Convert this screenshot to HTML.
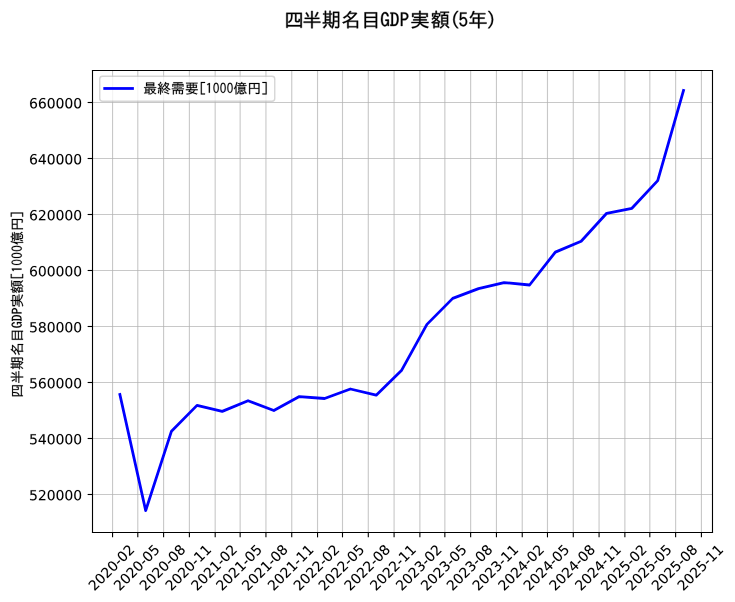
<!DOCTYPE html>
<html><head><meta charset="utf-8"><title>GDP chart</title>
<style>
html,body{margin:0;padding:0;background:#fff;width:735px;height:602px;overflow:hidden;font-family:"Liberation Sans",sans-serif;}
svg{display:block;position:absolute;left:0;top:0;}
#text_35 use{stroke:#000;stroke-width:110px;} #text_34 use,#text_33 use{stroke:#000;stroke-width:80px;} #text_1 use,#text_2 use,#text_3 use,#text_4 use,#text_5 use,#text_6 use,#text_7 use,#text_8 use,#text_9 use,#text_10 use,#text_11 use,#text_12 use,#text_13 use,#text_14 use,#text_15 use,#text_16 use,#text_17 use,#text_18 use,#text_19 use,#text_20 use,#text_21 use,#text_22 use,#text_23 use,#text_24 use,#text_25 use,#text_26 use,#text_27 use,#text_28 use,#text_29 use,#text_30 use,#text_31 use,#text_32 use{stroke:#000;stroke-width:45px;}
</style></head><body>
<svg width="735.2024" height="602.2616" viewBox="0 0 529.345718 433.628378" version="1.1">
<defs>
<style type="text/css">*{stroke-linejoin: round; stroke-linecap: butt}</style>
</defs>
<g id="figure_1" transform="translate(1.0800 0.3600)">
<g id="patch_1">
<path d="M 0 433.628378
L 529.345718 433.628378
L 529.345718 0
L 0 0
z
" style="fill: #ffffff"/>
</g>
<g id="axes_1">
<g id="patch_2">
<path d="M 65.526563 383.04
L 511.926562 383.04
L 511.926562 50.4
L 65.526563 50.4
z
" style="fill: #ffffff"/>
</g>
<g id="matplotlib.axis_1">
<g id="xtick_1">
<g id="line2d_1">
<path d="M 79.962383 383.04
L 79.962383 50.4
" clip-path="url(#p11ac2ed58e)" style="fill: none; stroke: #b0b0b0; stroke-opacity: 0.7; stroke-width: 0.8; stroke-linecap: square"/>
</g>
<g id="line2d_2">
<defs>
<path id="m41a6c0b2a0" d="M 0 0
L 0 3.5
" style="stroke: #000000; stroke-width: 0.8"/>
</defs>
<g>
<use xlink:href="#m41a6c0b2a0" x="79.962383" y="383.04" style="stroke: #000000; stroke-width: 0.8"/>
</g>
</g>
<g id="text_1" transform="translate(-0.2880 0.5760)">
<!-- 2020-02 -->
<g transform="translate(67.141101 424.957817) rotate(-45) scale(0.1 -0.1)">
<defs>
<path id="DejaVuSans-32" d="M 1228 531
L 3431 531
L 3431 0
L 469 0
L 469 531
Q 828 903 1448 1529
Q 2069 2156 2228 2338
Q 2531 2678 2651 2914
Q 2772 3150 2772 3378
Q 2772 3750 2511 3984
Q 2250 4219 1831 4219
Q 1534 4219 1204 4116
Q 875 4013 500 3803
L 500 4441
Q 881 4594 1212 4672
Q 1544 4750 1819 4750
Q 2544 4750 2975 4387
Q 3406 4025 3406 3419
Q 3406 3131 3298 2873
Q 3191 2616 2906 2266
Q 2828 2175 2409 1742
Q 1991 1309 1228 531
z
" transform="scale(0.015625)"/>
<path id="DejaVuSans-30" d="M 2034 4250
Q 1547 4250 1301 3770
Q 1056 3291 1056 2328
Q 1056 1369 1301 889
Q 1547 409 2034 409
Q 2525 409 2770 889
Q 3016 1369 3016 2328
Q 3016 3291 2770 3770
Q 2525 4250 2034 4250
z
M 2034 4750
Q 2819 4750 3233 4129
Q 3647 3509 3647 2328
Q 3647 1150 3233 529
Q 2819 -91 2034 -91
Q 1250 -91 836 529
Q 422 1150 422 2328
Q 422 3509 836 4129
Q 1250 4750 2034 4750
z
" transform="scale(0.015625)"/>
<path id="DejaVuSans-2d" d="M 313 2009
L 1997 2009
L 1997 1497
L 313 1497
L 313 2009
z
" transform="scale(0.015625)"/>
</defs>
<use xlink:href="#DejaVuSans-32"/>
<use xlink:href="#DejaVuSans-30" transform="translate(63.623047 0)"/>
<use xlink:href="#DejaVuSans-32" transform="translate(127.246094 0)"/>
<use xlink:href="#DejaVuSans-30" transform="translate(190.869141 0)"/>
<use xlink:href="#DejaVuSans-2d" transform="translate(254.492188 0)"/>
<use xlink:href="#DejaVuSans-30" transform="translate(290.576172 0)"/>
<use xlink:href="#DejaVuSans-32" transform="translate(354.199219 0)"/>
</g>
</g>
</g>
<g id="xtick_2">
<g id="line2d_3">
<path d="M 98.133347 383.04
L 98.133347 50.4
" clip-path="url(#p11ac2ed58e)" style="fill: none; stroke: #b0b0b0; stroke-opacity: 0.7; stroke-width: 0.8; stroke-linecap: square"/>
</g>
<g id="line2d_4">
<g>
<use xlink:href="#m41a6c0b2a0" x="98.133347" y="383.04" style="stroke: #000000; stroke-width: 0.8"/>
</g>
</g>
<g id="text_2" transform="translate(-0.2880 0.5760)">
<!-- 2020-05 -->
<g transform="translate(85.312065 424.957817) rotate(-45) scale(0.1 -0.1)">
<defs>
<path id="DejaVuSans-35" d="M 691 4666
L 3169 4666
L 3169 4134
L 1269 4134
L 1269 2991
Q 1406 3038 1543 3061
Q 1681 3084 1819 3084
Q 2600 3084 3056 2656
Q 3513 2228 3513 1497
Q 3513 744 3044 326
Q 2575 -91 1722 -91
Q 1428 -91 1123 -41
Q 819 9 494 109
L 494 744
Q 775 591 1075 516
Q 1375 441 1709 441
Q 2250 441 2565 725
Q 2881 1009 2881 1497
Q 2881 1984 2565 2268
Q 2250 2553 1709 2553
Q 1456 2553 1204 2497
Q 953 2441 691 2322
L 691 4666
z
" transform="scale(0.015625)"/>
</defs>
<use xlink:href="#DejaVuSans-32"/>
<use xlink:href="#DejaVuSans-30" transform="translate(63.623047 0)"/>
<use xlink:href="#DejaVuSans-32" transform="translate(127.246094 0)"/>
<use xlink:href="#DejaVuSans-30" transform="translate(190.869141 0)"/>
<use xlink:href="#DejaVuSans-2d" transform="translate(254.492188 0)"/>
<use xlink:href="#DejaVuSans-30" transform="translate(290.576172 0)"/>
<use xlink:href="#DejaVuSans-35" transform="translate(354.199219 0)"/>
</g>
</g>
</g>
<g id="xtick_3">
<g id="line2d_5">
<path d="M 116.708109 383.04
L 116.708109 50.4
" clip-path="url(#p11ac2ed58e)" style="fill: none; stroke: #b0b0b0; stroke-opacity: 0.7; stroke-width: 0.8; stroke-linecap: square"/>
</g>
<g id="line2d_6">
<g>
<use xlink:href="#m41a6c0b2a0" x="116.708109" y="383.04" style="stroke: #000000; stroke-width: 0.8"/>
</g>
</g>
<g id="text_3" transform="translate(-0.2880 0.5760)">
<!-- 2020-08 -->
<g transform="translate(103.886827 424.957817) rotate(-45) scale(0.1 -0.1)">
<defs>
<path id="DejaVuSans-38" d="M 2034 2216
Q 1584 2216 1326 1975
Q 1069 1734 1069 1313
Q 1069 891 1326 650
Q 1584 409 2034 409
Q 2484 409 2743 651
Q 3003 894 3003 1313
Q 3003 1734 2745 1975
Q 2488 2216 2034 2216
z
M 1403 2484
Q 997 2584 770 2862
Q 544 3141 544 3541
Q 544 4100 942 4425
Q 1341 4750 2034 4750
Q 2731 4750 3128 4425
Q 3525 4100 3525 3541
Q 3525 3141 3298 2862
Q 3072 2584 2669 2484
Q 3125 2378 3379 2068
Q 3634 1759 3634 1313
Q 3634 634 3220 271
Q 2806 -91 2034 -91
Q 1263 -91 848 271
Q 434 634 434 1313
Q 434 1759 690 2068
Q 947 2378 1403 2484
z
M 1172 3481
Q 1172 3119 1398 2916
Q 1625 2713 2034 2713
Q 2441 2713 2670 2916
Q 2900 3119 2900 3481
Q 2900 3844 2670 4047
Q 2441 4250 2034 4250
Q 1625 4250 1398 4047
Q 1172 3844 1172 3481
z
" transform="scale(0.015625)"/>
</defs>
<use xlink:href="#DejaVuSans-32"/>
<use xlink:href="#DejaVuSans-30" transform="translate(63.623047 0)"/>
<use xlink:href="#DejaVuSans-32" transform="translate(127.246094 0)"/>
<use xlink:href="#DejaVuSans-30" transform="translate(190.869141 0)"/>
<use xlink:href="#DejaVuSans-2d" transform="translate(254.492188 0)"/>
<use xlink:href="#DejaVuSans-30" transform="translate(290.576172 0)"/>
<use xlink:href="#DejaVuSans-38" transform="translate(354.199219 0)"/>
</g>
</g>
</g>
<g id="xtick_4">
<g id="line2d_7">
<path d="M 135.282872 383.04
L 135.282872 50.4
" clip-path="url(#p11ac2ed58e)" style="fill: none; stroke: #b0b0b0; stroke-opacity: 0.7; stroke-width: 0.8; stroke-linecap: square"/>
</g>
<g id="line2d_8">
<g>
<use xlink:href="#m41a6c0b2a0" x="135.282872" y="383.04" style="stroke: #000000; stroke-width: 0.8"/>
</g>
</g>
<g id="text_4" transform="translate(-0.2880 0.5760)">
<!-- 2020-11 -->
<g transform="translate(122.46159 424.957817) rotate(-45) scale(0.1 -0.1)">
<defs>
<path id="DejaVuSans-31" d="M 794 531
L 1825 531
L 1825 4091
L 703 3866
L 703 4441
L 1819 4666
L 2450 4666
L 2450 531
L 3481 531
L 3481 0
L 794 0
L 794 531
z
" transform="scale(0.015625)"/>
</defs>
<use xlink:href="#DejaVuSans-32"/>
<use xlink:href="#DejaVuSans-30" transform="translate(63.623047 0)"/>
<use xlink:href="#DejaVuSans-32" transform="translate(127.246094 0)"/>
<use xlink:href="#DejaVuSans-30" transform="translate(190.869141 0)"/>
<use xlink:href="#DejaVuSans-2d" transform="translate(254.492188 0)"/>
<use xlink:href="#DejaVuSans-31" transform="translate(290.576172 0)"/>
<use xlink:href="#DejaVuSans-31" transform="translate(354.199219 0)"/>
</g>
</g>
</g>
<g id="xtick_5">
<g id="line2d_9">
<path d="M 153.857634 383.04
L 153.857634 50.4
" clip-path="url(#p11ac2ed58e)" style="fill: none; stroke: #b0b0b0; stroke-opacity: 0.7; stroke-width: 0.8; stroke-linecap: square"/>
</g>
<g id="line2d_10">
<g>
<use xlink:href="#m41a6c0b2a0" x="153.857634" y="383.04" style="stroke: #000000; stroke-width: 0.8"/>
</g>
</g>
<g id="text_5" transform="translate(-0.2880 0.5760)">
<!-- 2021-02 -->
<g transform="translate(141.036352 424.957817) rotate(-45) scale(0.1 -0.1)">
<use xlink:href="#DejaVuSans-32"/>
<use xlink:href="#DejaVuSans-30" transform="translate(63.623047 0)"/>
<use xlink:href="#DejaVuSans-32" transform="translate(127.246094 0)"/>
<use xlink:href="#DejaVuSans-31" transform="translate(190.869141 0)"/>
<use xlink:href="#DejaVuSans-2d" transform="translate(254.492188 0)"/>
<use xlink:href="#DejaVuSans-30" transform="translate(290.576172 0)"/>
<use xlink:href="#DejaVuSans-32" transform="translate(354.199219 0)"/>
</g>
</g>
</g>
<g id="xtick_6">
<g id="line2d_11">
<path d="M 171.826698 383.04
L 171.826698 50.4
" clip-path="url(#p11ac2ed58e)" style="fill: none; stroke: #b0b0b0; stroke-opacity: 0.7; stroke-width: 0.8; stroke-linecap: square"/>
</g>
<g id="line2d_12">
<g>
<use xlink:href="#m41a6c0b2a0" x="171.826698" y="383.04" style="stroke: #000000; stroke-width: 0.8"/>
</g>
</g>
<g id="text_6" transform="translate(-0.2880 0.5760)">
<!-- 2021-05 -->
<g transform="translate(159.005416 424.957817) rotate(-45) scale(0.1 -0.1)">
<use xlink:href="#DejaVuSans-32"/>
<use xlink:href="#DejaVuSans-30" transform="translate(63.623047 0)"/>
<use xlink:href="#DejaVuSans-32" transform="translate(127.246094 0)"/>
<use xlink:href="#DejaVuSans-31" transform="translate(190.869141 0)"/>
<use xlink:href="#DejaVuSans-2d" transform="translate(254.492188 0)"/>
<use xlink:href="#DejaVuSans-30" transform="translate(290.576172 0)"/>
<use xlink:href="#DejaVuSans-35" transform="translate(354.199219 0)"/>
</g>
</g>
</g>
<g id="xtick_7">
<g id="line2d_13">
<path d="M 190.401461 383.04
L 190.401461 50.4
" clip-path="url(#p11ac2ed58e)" style="fill: none; stroke: #b0b0b0; stroke-opacity: 0.7; stroke-width: 0.8; stroke-linecap: square"/>
</g>
<g id="line2d_14">
<g>
<use xlink:href="#m41a6c0b2a0" x="190.401461" y="383.04" style="stroke: #000000; stroke-width: 0.8"/>
</g>
</g>
<g id="text_7" transform="translate(-0.2880 0.5760)">
<!-- 2021-08 -->
<g transform="translate(177.580178 424.957817) rotate(-45) scale(0.1 -0.1)">
<use xlink:href="#DejaVuSans-32"/>
<use xlink:href="#DejaVuSans-30" transform="translate(63.623047 0)"/>
<use xlink:href="#DejaVuSans-32" transform="translate(127.246094 0)"/>
<use xlink:href="#DejaVuSans-31" transform="translate(190.869141 0)"/>
<use xlink:href="#DejaVuSans-2d" transform="translate(254.492188 0)"/>
<use xlink:href="#DejaVuSans-30" transform="translate(290.576172 0)"/>
<use xlink:href="#DejaVuSans-38" transform="translate(354.199219 0)"/>
</g>
</g>
</g>
<g id="xtick_8">
<g id="line2d_15">
<path d="M 208.976223 383.04
L 208.976223 50.4
" clip-path="url(#p11ac2ed58e)" style="fill: none; stroke: #b0b0b0; stroke-opacity: 0.7; stroke-width: 0.8; stroke-linecap: square"/>
</g>
<g id="line2d_16">
<g>
<use xlink:href="#m41a6c0b2a0" x="208.976223" y="383.04" style="stroke: #000000; stroke-width: 0.8"/>
</g>
</g>
<g id="text_8" transform="translate(-0.2880 0.5760)">
<!-- 2021-11 -->
<g transform="translate(196.154941 424.957817) rotate(-45) scale(0.1 -0.1)">
<use xlink:href="#DejaVuSans-32"/>
<use xlink:href="#DejaVuSans-30" transform="translate(63.623047 0)"/>
<use xlink:href="#DejaVuSans-32" transform="translate(127.246094 0)"/>
<use xlink:href="#DejaVuSans-31" transform="translate(190.869141 0)"/>
<use xlink:href="#DejaVuSans-2d" transform="translate(254.492188 0)"/>
<use xlink:href="#DejaVuSans-31" transform="translate(290.576172 0)"/>
<use xlink:href="#DejaVuSans-31" transform="translate(354.199219 0)"/>
</g>
</g>
</g>
<g id="xtick_9">
<g id="line2d_17">
<path d="M 227.550986 383.04
L 227.550986 50.4
" clip-path="url(#p11ac2ed58e)" style="fill: none; stroke: #b0b0b0; stroke-opacity: 0.7; stroke-width: 0.8; stroke-linecap: square"/>
</g>
<g id="line2d_18">
<g>
<use xlink:href="#m41a6c0b2a0" x="227.550986" y="383.04" style="stroke: #000000; stroke-width: 0.8"/>
</g>
</g>
<g id="text_9" transform="translate(-0.2880 0.5760)">
<!-- 2022-02 -->
<g transform="translate(214.729704 424.957817) rotate(-45) scale(0.1 -0.1)">
<use xlink:href="#DejaVuSans-32"/>
<use xlink:href="#DejaVuSans-30" transform="translate(63.623047 0)"/>
<use xlink:href="#DejaVuSans-32" transform="translate(127.246094 0)"/>
<use xlink:href="#DejaVuSans-32" transform="translate(190.869141 0)"/>
<use xlink:href="#DejaVuSans-2d" transform="translate(254.492188 0)"/>
<use xlink:href="#DejaVuSans-30" transform="translate(290.576172 0)"/>
<use xlink:href="#DejaVuSans-32" transform="translate(354.199219 0)"/>
</g>
</g>
</g>
<g id="xtick_10">
<g id="line2d_19">
<path d="M 245.52005 383.04
L 245.52005 50.4
" clip-path="url(#p11ac2ed58e)" style="fill: none; stroke: #b0b0b0; stroke-opacity: 0.7; stroke-width: 0.8; stroke-linecap: square"/>
</g>
<g id="line2d_20">
<g>
<use xlink:href="#m41a6c0b2a0" x="245.52005" y="383.04" style="stroke: #000000; stroke-width: 0.8"/>
</g>
</g>
<g id="text_10" transform="translate(-0.2880 0.5760)">
<!-- 2022-05 -->
<g transform="translate(232.698767 424.957817) rotate(-45) scale(0.1 -0.1)">
<use xlink:href="#DejaVuSans-32"/>
<use xlink:href="#DejaVuSans-30" transform="translate(63.623047 0)"/>
<use xlink:href="#DejaVuSans-32" transform="translate(127.246094 0)"/>
<use xlink:href="#DejaVuSans-32" transform="translate(190.869141 0)"/>
<use xlink:href="#DejaVuSans-2d" transform="translate(254.492188 0)"/>
<use xlink:href="#DejaVuSans-30" transform="translate(290.576172 0)"/>
<use xlink:href="#DejaVuSans-35" transform="translate(354.199219 0)"/>
</g>
</g>
</g>
<g id="xtick_11">
<g id="line2d_21">
<path d="M 264.094812 383.04
L 264.094812 50.4
" clip-path="url(#p11ac2ed58e)" style="fill: none; stroke: #b0b0b0; stroke-opacity: 0.7; stroke-width: 0.8; stroke-linecap: square"/>
</g>
<g id="line2d_22">
<g>
<use xlink:href="#m41a6c0b2a0" x="264.094812" y="383.04" style="stroke: #000000; stroke-width: 0.8"/>
</g>
</g>
<g id="text_11" transform="translate(-0.2880 0.5760)">
<!-- 2022-08 -->
<g transform="translate(251.27353 424.957817) rotate(-45) scale(0.1 -0.1)">
<use xlink:href="#DejaVuSans-32"/>
<use xlink:href="#DejaVuSans-30" transform="translate(63.623047 0)"/>
<use xlink:href="#DejaVuSans-32" transform="translate(127.246094 0)"/>
<use xlink:href="#DejaVuSans-32" transform="translate(190.869141 0)"/>
<use xlink:href="#DejaVuSans-2d" transform="translate(254.492188 0)"/>
<use xlink:href="#DejaVuSans-30" transform="translate(290.576172 0)"/>
<use xlink:href="#DejaVuSans-38" transform="translate(354.199219 0)"/>
</g>
</g>
</g>
<g id="xtick_12">
<g id="line2d_23">
<path d="M 282.669575 383.04
L 282.669575 50.4
" clip-path="url(#p11ac2ed58e)" style="fill: none; stroke: #b0b0b0; stroke-opacity: 0.7; stroke-width: 0.8; stroke-linecap: square"/>
</g>
<g id="line2d_24">
<g>
<use xlink:href="#m41a6c0b2a0" x="282.669575" y="383.04" style="stroke: #000000; stroke-width: 0.8"/>
</g>
</g>
<g id="text_12" transform="translate(-0.2880 0.5760)">
<!-- 2022-11 -->
<g transform="translate(269.848292 424.957817) rotate(-45) scale(0.1 -0.1)">
<use xlink:href="#DejaVuSans-32"/>
<use xlink:href="#DejaVuSans-30" transform="translate(63.623047 0)"/>
<use xlink:href="#DejaVuSans-32" transform="translate(127.246094 0)"/>
<use xlink:href="#DejaVuSans-32" transform="translate(190.869141 0)"/>
<use xlink:href="#DejaVuSans-2d" transform="translate(254.492188 0)"/>
<use xlink:href="#DejaVuSans-31" transform="translate(290.576172 0)"/>
<use xlink:href="#DejaVuSans-31" transform="translate(354.199219 0)"/>
</g>
</g>
</g>
<g id="xtick_13">
<g id="line2d_25">
<path d="M 301.244337 383.04
L 301.244337 50.4
" clip-path="url(#p11ac2ed58e)" style="fill: none; stroke: #b0b0b0; stroke-opacity: 0.7; stroke-width: 0.8; stroke-linecap: square"/>
</g>
<g id="line2d_26">
<g>
<use xlink:href="#m41a6c0b2a0" x="301.244337" y="383.04" style="stroke: #000000; stroke-width: 0.8"/>
</g>
</g>
<g id="text_13" transform="translate(-0.2880 0.5760)">
<!-- 2023-02 -->
<g transform="translate(288.423055 424.957817) rotate(-45) scale(0.1 -0.1)">
<defs>
<path id="DejaVuSans-33" d="M 2597 2516
Q 3050 2419 3304 2112
Q 3559 1806 3559 1356
Q 3559 666 3084 287
Q 2609 -91 1734 -91
Q 1441 -91 1130 -33
Q 819 25 488 141
L 488 750
Q 750 597 1062 519
Q 1375 441 1716 441
Q 2309 441 2620 675
Q 2931 909 2931 1356
Q 2931 1769 2642 2001
Q 2353 2234 1838 2234
L 1294 2234
L 1294 2753
L 1863 2753
Q 2328 2753 2575 2939
Q 2822 3125 2822 3475
Q 2822 3834 2567 4026
Q 2313 4219 1838 4219
Q 1578 4219 1281 4162
Q 984 4106 628 3988
L 628 4550
Q 988 4650 1302 4700
Q 1616 4750 1894 4750
Q 2613 4750 3031 4423
Q 3450 4097 3450 3541
Q 3450 3153 3228 2886
Q 3006 2619 2597 2516
z
" transform="scale(0.015625)"/>
</defs>
<use xlink:href="#DejaVuSans-32"/>
<use xlink:href="#DejaVuSans-30" transform="translate(63.623047 0)"/>
<use xlink:href="#DejaVuSans-32" transform="translate(127.246094 0)"/>
<use xlink:href="#DejaVuSans-33" transform="translate(190.869141 0)"/>
<use xlink:href="#DejaVuSans-2d" transform="translate(254.492188 0)"/>
<use xlink:href="#DejaVuSans-30" transform="translate(290.576172 0)"/>
<use xlink:href="#DejaVuSans-32" transform="translate(354.199219 0)"/>
</g>
</g>
</g>
<g id="xtick_14">
<g id="line2d_27">
<path d="M 319.213401 383.04
L 319.213401 50.4
" clip-path="url(#p11ac2ed58e)" style="fill: none; stroke: #b0b0b0; stroke-opacity: 0.7; stroke-width: 0.8; stroke-linecap: square"/>
</g>
<g id="line2d_28">
<g>
<use xlink:href="#m41a6c0b2a0" x="319.213401" y="383.04" style="stroke: #000000; stroke-width: 0.8"/>
</g>
</g>
<g id="text_14" transform="translate(-0.2880 0.5760)">
<!-- 2023-05 -->
<g transform="translate(306.392119 424.957817) rotate(-45) scale(0.1 -0.1)">
<use xlink:href="#DejaVuSans-32"/>
<use xlink:href="#DejaVuSans-30" transform="translate(63.623047 0)"/>
<use xlink:href="#DejaVuSans-32" transform="translate(127.246094 0)"/>
<use xlink:href="#DejaVuSans-33" transform="translate(190.869141 0)"/>
<use xlink:href="#DejaVuSans-2d" transform="translate(254.492188 0)"/>
<use xlink:href="#DejaVuSans-30" transform="translate(290.576172 0)"/>
<use xlink:href="#DejaVuSans-35" transform="translate(354.199219 0)"/>
</g>
</g>
</g>
<g id="xtick_15">
<g id="line2d_29">
<path d="M 337.788164 383.04
L 337.788164 50.4
" clip-path="url(#p11ac2ed58e)" style="fill: none; stroke: #b0b0b0; stroke-opacity: 0.7; stroke-width: 0.8; stroke-linecap: square"/>
</g>
<g id="line2d_30">
<g>
<use xlink:href="#m41a6c0b2a0" x="337.788164" y="383.04" style="stroke: #000000; stroke-width: 0.8"/>
</g>
</g>
<g id="text_15" transform="translate(-0.2880 0.5760)">
<!-- 2023-08 -->
<g transform="translate(324.966881 424.957817) rotate(-45) scale(0.1 -0.1)">
<use xlink:href="#DejaVuSans-32"/>
<use xlink:href="#DejaVuSans-30" transform="translate(63.623047 0)"/>
<use xlink:href="#DejaVuSans-32" transform="translate(127.246094 0)"/>
<use xlink:href="#DejaVuSans-33" transform="translate(190.869141 0)"/>
<use xlink:href="#DejaVuSans-2d" transform="translate(254.492188 0)"/>
<use xlink:href="#DejaVuSans-30" transform="translate(290.576172 0)"/>
<use xlink:href="#DejaVuSans-38" transform="translate(354.199219 0)"/>
</g>
</g>
</g>
<g id="xtick_16">
<g id="line2d_31">
<path d="M 356.362926 383.04
L 356.362926 50.4
" clip-path="url(#p11ac2ed58e)" style="fill: none; stroke: #b0b0b0; stroke-opacity: 0.7; stroke-width: 0.8; stroke-linecap: square"/>
</g>
<g id="line2d_32">
<g>
<use xlink:href="#m41a6c0b2a0" x="356.362926" y="383.04" style="stroke: #000000; stroke-width: 0.8"/>
</g>
</g>
<g id="text_16" transform="translate(-0.2880 0.5760)">
<!-- 2023-11 -->
<g transform="translate(343.541644 424.957817) rotate(-45) scale(0.1 -0.1)">
<use xlink:href="#DejaVuSans-32"/>
<use xlink:href="#DejaVuSans-30" transform="translate(63.623047 0)"/>
<use xlink:href="#DejaVuSans-32" transform="translate(127.246094 0)"/>
<use xlink:href="#DejaVuSans-33" transform="translate(190.869141 0)"/>
<use xlink:href="#DejaVuSans-2d" transform="translate(254.492188 0)"/>
<use xlink:href="#DejaVuSans-31" transform="translate(290.576172 0)"/>
<use xlink:href="#DejaVuSans-31" transform="translate(354.199219 0)"/>
</g>
</g>
</g>
<g id="xtick_17">
<g id="line2d_33">
<path d="M 374.937689 383.04
L 374.937689 50.4
" clip-path="url(#p11ac2ed58e)" style="fill: none; stroke: #b0b0b0; stroke-opacity: 0.7; stroke-width: 0.8; stroke-linecap: square"/>
</g>
<g id="line2d_34">
<g>
<use xlink:href="#m41a6c0b2a0" x="374.937689" y="383.04" style="stroke: #000000; stroke-width: 0.8"/>
</g>
</g>
<g id="text_17" transform="translate(-0.2880 0.5760)">
<!-- 2024-02 -->
<g transform="translate(362.116406 424.957817) rotate(-45) scale(0.1 -0.1)">
<defs>
<path id="DejaVuSans-34" d="M 2419 4116
L 825 1625
L 2419 1625
L 2419 4116
z
M 2253 4666
L 3047 4666
L 3047 1625
L 3713 1625
L 3713 1100
L 3047 1100
L 3047 0
L 2419 0
L 2419 1100
L 313 1100
L 313 1709
L 2253 4666
z
" transform="scale(0.015625)"/>
</defs>
<use xlink:href="#DejaVuSans-32"/>
<use xlink:href="#DejaVuSans-30" transform="translate(63.623047 0)"/>
<use xlink:href="#DejaVuSans-32" transform="translate(127.246094 0)"/>
<use xlink:href="#DejaVuSans-34" transform="translate(190.869141 0)"/>
<use xlink:href="#DejaVuSans-2d" transform="translate(254.492188 0)"/>
<use xlink:href="#DejaVuSans-30" transform="translate(290.576172 0)"/>
<use xlink:href="#DejaVuSans-32" transform="translate(354.199219 0)"/>
</g>
</g>
</g>
<g id="xtick_18">
<g id="line2d_35">
<path d="M 393.108652 383.04
L 393.108652 50.4
" clip-path="url(#p11ac2ed58e)" style="fill: none; stroke: #b0b0b0; stroke-opacity: 0.7; stroke-width: 0.8; stroke-linecap: square"/>
</g>
<g id="line2d_36">
<g>
<use xlink:href="#m41a6c0b2a0" x="393.108652" y="383.04" style="stroke: #000000; stroke-width: 0.8"/>
</g>
</g>
<g id="text_18" transform="translate(-0.2880 0.5760)">
<!-- 2024-05 -->
<g transform="translate(380.28737 424.957817) rotate(-45) scale(0.1 -0.1)">
<use xlink:href="#DejaVuSans-32"/>
<use xlink:href="#DejaVuSans-30" transform="translate(63.623047 0)"/>
<use xlink:href="#DejaVuSans-32" transform="translate(127.246094 0)"/>
<use xlink:href="#DejaVuSans-34" transform="translate(190.869141 0)"/>
<use xlink:href="#DejaVuSans-2d" transform="translate(254.492188 0)"/>
<use xlink:href="#DejaVuSans-30" transform="translate(290.576172 0)"/>
<use xlink:href="#DejaVuSans-35" transform="translate(354.199219 0)"/>
</g>
</g>
</g>
<g id="xtick_19">
<g id="line2d_37">
<path d="M 411.683415 383.04
L 411.683415 50.4
" clip-path="url(#p11ac2ed58e)" style="fill: none; stroke: #b0b0b0; stroke-opacity: 0.7; stroke-width: 0.8; stroke-linecap: square"/>
</g>
<g id="line2d_38">
<g>
<use xlink:href="#m41a6c0b2a0" x="411.683415" y="383.04" style="stroke: #000000; stroke-width: 0.8"/>
</g>
</g>
<g id="text_19" transform="translate(-0.2880 0.5760)">
<!-- 2024-08 -->
<g transform="translate(398.862132 424.957817) rotate(-45) scale(0.1 -0.1)">
<use xlink:href="#DejaVuSans-32"/>
<use xlink:href="#DejaVuSans-30" transform="translate(63.623047 0)"/>
<use xlink:href="#DejaVuSans-32" transform="translate(127.246094 0)"/>
<use xlink:href="#DejaVuSans-34" transform="translate(190.869141 0)"/>
<use xlink:href="#DejaVuSans-2d" transform="translate(254.492188 0)"/>
<use xlink:href="#DejaVuSans-30" transform="translate(290.576172 0)"/>
<use xlink:href="#DejaVuSans-38" transform="translate(354.199219 0)"/>
</g>
</g>
</g>
<g id="xtick_20">
<g id="line2d_39">
<path d="M 430.258177 383.04
L 430.258177 50.4
" clip-path="url(#p11ac2ed58e)" style="fill: none; stroke: #b0b0b0; stroke-opacity: 0.7; stroke-width: 0.8; stroke-linecap: square"/>
</g>
<g id="line2d_40">
<g>
<use xlink:href="#m41a6c0b2a0" x="430.258177" y="383.04" style="stroke: #000000; stroke-width: 0.8"/>
</g>
</g>
<g id="text_20" transform="translate(-0.2880 0.5760)">
<!-- 2024-11 -->
<g transform="translate(417.436895 424.957817) rotate(-45) scale(0.1 -0.1)">
<use xlink:href="#DejaVuSans-32"/>
<use xlink:href="#DejaVuSans-30" transform="translate(63.623047 0)"/>
<use xlink:href="#DejaVuSans-32" transform="translate(127.246094 0)"/>
<use xlink:href="#DejaVuSans-34" transform="translate(190.869141 0)"/>
<use xlink:href="#DejaVuSans-2d" transform="translate(254.492188 0)"/>
<use xlink:href="#DejaVuSans-31" transform="translate(290.576172 0)"/>
<use xlink:href="#DejaVuSans-31" transform="translate(354.199219 0)"/>
</g>
</g>
</g>
<g id="xtick_21">
<g id="line2d_41">
<path d="M 448.83294 383.04
L 448.83294 50.4
" clip-path="url(#p11ac2ed58e)" style="fill: none; stroke: #b0b0b0; stroke-opacity: 0.7; stroke-width: 0.8; stroke-linecap: square"/>
</g>
<g id="line2d_42">
<g>
<use xlink:href="#m41a6c0b2a0" x="448.83294" y="383.04" style="stroke: #000000; stroke-width: 0.8"/>
</g>
</g>
<g id="text_21" transform="translate(-0.2880 0.5760)">
<!-- 2025-02 -->
<g transform="translate(436.011657 424.957817) rotate(-45) scale(0.1 -0.1)">
<use xlink:href="#DejaVuSans-32"/>
<use xlink:href="#DejaVuSans-30" transform="translate(63.623047 0)"/>
<use xlink:href="#DejaVuSans-32" transform="translate(127.246094 0)"/>
<use xlink:href="#DejaVuSans-35" transform="translate(190.869141 0)"/>
<use xlink:href="#DejaVuSans-2d" transform="translate(254.492188 0)"/>
<use xlink:href="#DejaVuSans-30" transform="translate(290.576172 0)"/>
<use xlink:href="#DejaVuSans-32" transform="translate(354.199219 0)"/>
</g>
</g>
</g>
<g id="xtick_22">
<g id="line2d_43">
<path d="M 466.802003 383.04
L 466.802003 50.4
" clip-path="url(#p11ac2ed58e)" style="fill: none; stroke: #b0b0b0; stroke-opacity: 0.7; stroke-width: 0.8; stroke-linecap: square"/>
</g>
<g id="line2d_44">
<g>
<use xlink:href="#m41a6c0b2a0" x="466.802003" y="383.04" style="stroke: #000000; stroke-width: 0.8"/>
</g>
</g>
<g id="text_22" transform="translate(-0.2880 0.5760)">
<!-- 2025-05 -->
<g transform="translate(453.980721 424.957817) rotate(-45) scale(0.1 -0.1)">
<use xlink:href="#DejaVuSans-32"/>
<use xlink:href="#DejaVuSans-30" transform="translate(63.623047 0)"/>
<use xlink:href="#DejaVuSans-32" transform="translate(127.246094 0)"/>
<use xlink:href="#DejaVuSans-35" transform="translate(190.869141 0)"/>
<use xlink:href="#DejaVuSans-2d" transform="translate(254.492188 0)"/>
<use xlink:href="#DejaVuSans-30" transform="translate(290.576172 0)"/>
<use xlink:href="#DejaVuSans-35" transform="translate(354.199219 0)"/>
</g>
</g>
</g>
<g id="xtick_23">
<g id="line2d_45">
<path d="M 485.376766 383.04
L 485.376766 50.4
" clip-path="url(#p11ac2ed58e)" style="fill: none; stroke: #b0b0b0; stroke-opacity: 0.7; stroke-width: 0.8; stroke-linecap: square"/>
</g>
<g id="line2d_46">
<g>
<use xlink:href="#m41a6c0b2a0" x="485.376766" y="383.04" style="stroke: #000000; stroke-width: 0.8"/>
</g>
</g>
<g id="text_23" transform="translate(-0.2880 0.5760)">
<!-- 2025-08 -->
<g transform="translate(472.555484 424.957817) rotate(-45) scale(0.1 -0.1)">
<use xlink:href="#DejaVuSans-32"/>
<use xlink:href="#DejaVuSans-30" transform="translate(63.623047 0)"/>
<use xlink:href="#DejaVuSans-32" transform="translate(127.246094 0)"/>
<use xlink:href="#DejaVuSans-35" transform="translate(190.869141 0)"/>
<use xlink:href="#DejaVuSans-2d" transform="translate(254.492188 0)"/>
<use xlink:href="#DejaVuSans-30" transform="translate(290.576172 0)"/>
<use xlink:href="#DejaVuSans-38" transform="translate(354.199219 0)"/>
</g>
</g>
</g>
<g id="xtick_24">
<g id="line2d_47">
<path d="M 503.951529 383.04
L 503.951529 50.4
" clip-path="url(#p11ac2ed58e)" style="fill: none; stroke: #b0b0b0; stroke-opacity: 0.7; stroke-width: 0.8; stroke-linecap: square"/>
</g>
<g id="line2d_48">
<g>
<use xlink:href="#m41a6c0b2a0" x="503.951529" y="383.04" style="stroke: #000000; stroke-width: 0.8"/>
</g>
</g>
<g id="text_24" transform="translate(-0.2880 0.5760)">
<!-- 2025-11 -->
<g transform="translate(491.130246 424.957817) rotate(-45) scale(0.1 -0.1)">
<use xlink:href="#DejaVuSans-32"/>
<use xlink:href="#DejaVuSans-30" transform="translate(63.623047 0)"/>
<use xlink:href="#DejaVuSans-32" transform="translate(127.246094 0)"/>
<use xlink:href="#DejaVuSans-35" transform="translate(190.869141 0)"/>
<use xlink:href="#DejaVuSans-2d" transform="translate(254.492188 0)"/>
<use xlink:href="#DejaVuSans-31" transform="translate(290.576172 0)"/>
<use xlink:href="#DejaVuSans-31" transform="translate(354.199219 0)"/>
</g>
</g>
</g>
</g>
<g id="matplotlib.axis_2">
<g id="ytick_1">
<g id="line2d_49">
<path d="M 65.526563 355.680058
L 511.926562 355.680058
" clip-path="url(#p11ac2ed58e)" style="fill: none; stroke: #b0b0b0; stroke-opacity: 0.7; stroke-width: 0.8; stroke-linecap: square"/>
</g>
<g id="line2d_50">
<defs>
<path id="mbd9f50e715" d="M 0 0
L -3.5 0
" style="stroke: #000000; stroke-width: 0.8"/>
</defs>
<g>
<use xlink:href="#mbd9f50e715" x="65.526563" y="355.680058" style="stroke: #000000; stroke-width: 0.8"/>
</g>
</g>
<g id="text_25" transform="translate(-0.5040 0.3600)">
<!-- 520000 -->
<g transform="translate(20.351563 359.479276) scale(0.1 -0.1)">
<use xlink:href="#DejaVuSans-35"/>
<use xlink:href="#DejaVuSans-32" transform="translate(63.623047 0)"/>
<use xlink:href="#DejaVuSans-30" transform="translate(127.246094 0)"/>
<use xlink:href="#DejaVuSans-30" transform="translate(190.869141 0)"/>
<use xlink:href="#DejaVuSans-30" transform="translate(254.492188 0)"/>
<use xlink:href="#DejaVuSans-30" transform="translate(318.115234 0)"/>
</g>
</g>
</g>
<g id="ytick_2">
<g id="line2d_51">
<path d="M 65.526563 315.360058
L 511.926562 315.360058
" clip-path="url(#p11ac2ed58e)" style="fill: none; stroke: #b0b0b0; stroke-opacity: 0.7; stroke-width: 0.8; stroke-linecap: square"/>
</g>
<g id="line2d_52">
<g>
<use xlink:href="#mbd9f50e715" x="65.526563" y="315.360058" style="stroke: #000000; stroke-width: 0.8"/>
</g>
</g>
<g id="text_26" transform="translate(-0.5040 0.3600)">
<!-- 540000 -->
<g transform="translate(20.351563 319.159276) scale(0.1 -0.1)">
<use xlink:href="#DejaVuSans-35"/>
<use xlink:href="#DejaVuSans-34" transform="translate(63.623047 0)"/>
<use xlink:href="#DejaVuSans-30" transform="translate(127.246094 0)"/>
<use xlink:href="#DejaVuSans-30" transform="translate(190.869141 0)"/>
<use xlink:href="#DejaVuSans-30" transform="translate(254.492188 0)"/>
<use xlink:href="#DejaVuSans-30" transform="translate(318.115234 0)"/>
</g>
</g>
</g>
<g id="ytick_3">
<g id="line2d_53">
<path d="M 65.526563 275.040058
L 511.926562 275.040058
" clip-path="url(#p11ac2ed58e)" style="fill: none; stroke: #b0b0b0; stroke-opacity: 0.7; stroke-width: 0.8; stroke-linecap: square"/>
</g>
<g id="line2d_54">
<g>
<use xlink:href="#mbd9f50e715" x="65.526563" y="275.040058" style="stroke: #000000; stroke-width: 0.8"/>
</g>
</g>
<g id="text_27" transform="translate(-0.5040 0.3600)">
<!-- 560000 -->
<g transform="translate(20.351563 278.839276) scale(0.1 -0.1)">
<defs>
<path id="DejaVuSans-36" d="M 2113 2584
Q 1688 2584 1439 2293
Q 1191 2003 1191 1497
Q 1191 994 1439 701
Q 1688 409 2113 409
Q 2538 409 2786 701
Q 3034 994 3034 1497
Q 3034 2003 2786 2293
Q 2538 2584 2113 2584
z
M 3366 4563
L 3366 3988
Q 3128 4100 2886 4159
Q 2644 4219 2406 4219
Q 1781 4219 1451 3797
Q 1122 3375 1075 2522
Q 1259 2794 1537 2939
Q 1816 3084 2150 3084
Q 2853 3084 3261 2657
Q 3669 2231 3669 1497
Q 3669 778 3244 343
Q 2819 -91 2113 -91
Q 1303 -91 875 529
Q 447 1150 447 2328
Q 447 3434 972 4092
Q 1497 4750 2381 4750
Q 2619 4750 2861 4703
Q 3103 4656 3366 4563
z
" transform="scale(0.015625)"/>
</defs>
<use xlink:href="#DejaVuSans-35"/>
<use xlink:href="#DejaVuSans-36" transform="translate(63.623047 0)"/>
<use xlink:href="#DejaVuSans-30" transform="translate(127.246094 0)"/>
<use xlink:href="#DejaVuSans-30" transform="translate(190.869141 0)"/>
<use xlink:href="#DejaVuSans-30" transform="translate(254.492188 0)"/>
<use xlink:href="#DejaVuSans-30" transform="translate(318.115234 0)"/>
</g>
</g>
</g>
<g id="ytick_4">
<g id="line2d_55">
<path d="M 65.526563 234.720058
L 511.926562 234.720058
" clip-path="url(#p11ac2ed58e)" style="fill: none; stroke: #b0b0b0; stroke-opacity: 0.7; stroke-width: 0.8; stroke-linecap: square"/>
</g>
<g id="line2d_56">
<g>
<use xlink:href="#mbd9f50e715" x="65.526563" y="234.720058" style="stroke: #000000; stroke-width: 0.8"/>
</g>
</g>
<g id="text_28" transform="translate(-0.5040 0.3600)">
<!-- 580000 -->
<g transform="translate(20.351563 238.519276) scale(0.1 -0.1)">
<use xlink:href="#DejaVuSans-35"/>
<use xlink:href="#DejaVuSans-38" transform="translate(63.623047 0)"/>
<use xlink:href="#DejaVuSans-30" transform="translate(127.246094 0)"/>
<use xlink:href="#DejaVuSans-30" transform="translate(190.869141 0)"/>
<use xlink:href="#DejaVuSans-30" transform="translate(254.492188 0)"/>
<use xlink:href="#DejaVuSans-30" transform="translate(318.115234 0)"/>
</g>
</g>
</g>
<g id="ytick_5">
<g id="line2d_57">
<path d="M 65.526563 194.400058
L 511.926562 194.400058
" clip-path="url(#p11ac2ed58e)" style="fill: none; stroke: #b0b0b0; stroke-opacity: 0.7; stroke-width: 0.8; stroke-linecap: square"/>
</g>
<g id="line2d_58">
<g>
<use xlink:href="#mbd9f50e715" x="65.526563" y="194.400058" style="stroke: #000000; stroke-width: 0.8"/>
</g>
</g>
<g id="text_29" transform="translate(-0.5040 0.3600)">
<!-- 600000 -->
<g transform="translate(20.351563 198.199276) scale(0.1 -0.1)">
<use xlink:href="#DejaVuSans-36"/>
<use xlink:href="#DejaVuSans-30" transform="translate(63.623047 0)"/>
<use xlink:href="#DejaVuSans-30" transform="translate(127.246094 0)"/>
<use xlink:href="#DejaVuSans-30" transform="translate(190.869141 0)"/>
<use xlink:href="#DejaVuSans-30" transform="translate(254.492188 0)"/>
<use xlink:href="#DejaVuSans-30" transform="translate(318.115234 0)"/>
</g>
</g>
</g>
<g id="ytick_6">
<g id="line2d_59">
<path d="M 65.526563 154.080058
L 511.926562 154.080058
" clip-path="url(#p11ac2ed58e)" style="fill: none; stroke: #b0b0b0; stroke-opacity: 0.7; stroke-width: 0.8; stroke-linecap: square"/>
</g>
<g id="line2d_60">
<g>
<use xlink:href="#mbd9f50e715" x="65.526563" y="154.080058" style="stroke: #000000; stroke-width: 0.8"/>
</g>
</g>
<g id="text_30" transform="translate(-0.5040 0.3600)">
<!-- 620000 -->
<g transform="translate(20.351563 157.879276) scale(0.1 -0.1)">
<use xlink:href="#DejaVuSans-36"/>
<use xlink:href="#DejaVuSans-32" transform="translate(63.623047 0)"/>
<use xlink:href="#DejaVuSans-30" transform="translate(127.246094 0)"/>
<use xlink:href="#DejaVuSans-30" transform="translate(190.869141 0)"/>
<use xlink:href="#DejaVuSans-30" transform="translate(254.492188 0)"/>
<use xlink:href="#DejaVuSans-30" transform="translate(318.115234 0)"/>
</g>
</g>
</g>
<g id="ytick_7">
<g id="line2d_61">
<path d="M 65.526563 113.760058
L 511.926562 113.760058
" clip-path="url(#p11ac2ed58e)" style="fill: none; stroke: #b0b0b0; stroke-opacity: 0.7; stroke-width: 0.8; stroke-linecap: square"/>
</g>
<g id="line2d_62">
<g>
<use xlink:href="#mbd9f50e715" x="65.526563" y="113.760058" style="stroke: #000000; stroke-width: 0.8"/>
</g>
</g>
<g id="text_31" transform="translate(-0.5040 0.3600)">
<!-- 640000 -->
<g transform="translate(20.351563 117.559276) scale(0.1 -0.1)">
<use xlink:href="#DejaVuSans-36"/>
<use xlink:href="#DejaVuSans-34" transform="translate(63.623047 0)"/>
<use xlink:href="#DejaVuSans-30" transform="translate(127.246094 0)"/>
<use xlink:href="#DejaVuSans-30" transform="translate(190.869141 0)"/>
<use xlink:href="#DejaVuSans-30" transform="translate(254.492188 0)"/>
<use xlink:href="#DejaVuSans-30" transform="translate(318.115234 0)"/>
</g>
</g>
</g>
<g id="ytick_8">
<g id="line2d_63">
<path d="M 65.526563 73.440058
L 511.926562 73.440058
" clip-path="url(#p11ac2ed58e)" style="fill: none; stroke: #b0b0b0; stroke-opacity: 0.7; stroke-width: 0.8; stroke-linecap: square"/>
</g>
<g id="line2d_64">
<g>
<use xlink:href="#mbd9f50e715" x="65.526563" y="73.440058" style="stroke: #000000; stroke-width: 0.8"/>
</g>
</g>
<g id="text_32" transform="translate(-0.5040 0.3600)">
<!-- 660000 -->
<g transform="translate(20.351563 77.239276) scale(0.1 -0.1)">
<use xlink:href="#DejaVuSans-36"/>
<use xlink:href="#DejaVuSans-36" transform="translate(63.623047 0)"/>
<use xlink:href="#DejaVuSans-30" transform="translate(127.246094 0)"/>
<use xlink:href="#DejaVuSans-30" transform="translate(190.869141 0)"/>
<use xlink:href="#DejaVuSans-30" transform="translate(254.492188 0)"/>
<use xlink:href="#DejaVuSans-30" transform="translate(318.115234 0)"/>
</g>
</g>
</g>
<g id="text_33" transform="translate(-0.5040 1.8000)">
<!-- 四半期名目GDP実額[1000億円] -->
<g transform="translate(15.423438 284.22) rotate(-90) scale(0.1 -0.1)">
<defs>
<path id="IPAGothic-56db" d="M 5747 4659
L 5747 -288
L 5288 -288
L 5288 191
L 1109 191
L 1109 -288
L 641 -288
L 641 4659
L 5747 4659
z
M 1109 4244
L 1109 619
L 5288 619
L 5288 4244
L 3969 4244
L 3969 2206
Q 3969 2056 4025 2025
Q 4094 1988 4294 1988
Q 4631 1988 4678 2122
Q 4722 2238 4731 2591
L 4738 2681
L 5147 2528
Q 5128 1931 5013 1759
Q 4884 1572 4303 1572
Q 3803 1572 3663 1675
Q 3522 1769 3522 2028
L 3522 4244
L 2663 4244
L 2663 3591
Q 2663 2488 2284 1963
Q 2050 1631 1506 1297
L 1206 1656
Q 1859 1997 2063 2541
Q 2209 2922 2209 3541
L 2209 4244
L 1109 4244
z
" transform="scale(0.015625)"/>
<path id="IPAGothic-534a" d="M 2931 3053
L 2931 5288
L 3419 5288
L 3419 3053
L 5594 3053
L 5594 2638
L 3419 2638
L 3419 1772
L 5944 1772
L 5944 1356
L 3419 1356
L 3419 -447
L 2931 -447
L 2931 1356
L 447 1356
L 447 1772
L 2931 1772
L 2931 2638
L 800 2638
L 800 3053
L 2931 3053
z
M 1816 3297
Q 1456 4113 1056 4622
L 1459 4872
Q 1906 4291 2253 3531
L 1816 3297
z
M 4094 3469
Q 4566 4197 4863 4947
L 5325 4738
Q 4956 3938 4491 3263
L 4094 3469
z
" transform="scale(0.015625)"/>
<path id="IPAGothic-671f" d="M 1009 4469
L 1009 5313
L 1431 5313
L 1431 4469
L 2513 4469
L 2513 5313
L 2928 5313
L 2928 4469
L 3434 4469
L 3434 4084
L 2928 4084
L 2928 1522
L 3506 1522
L 3506 1125
L 319 1125
L 319 1522
L 1009 1522
L 1009 4084
L 441 4084
L 441 4469
L 1009 4469
z
M 2513 4084
L 1431 4084
L 1431 3481
L 2513 3481
L 2513 4084
z
M 2513 3116
L 1431 3116
L 1431 2516
L 2513 2516
L 2513 3116
z
M 2513 2156
L 1431 2156
L 1431 1522
L 2513 1522
L 2513 2156
z
M 5747 4984
L 5747 72
Q 5747 -391 5216 -391
Q 4766 -391 4419 -347
L 4350 109
Q 4763 38 5138 38
Q 5331 38 5331 225
L 5331 1703
L 4113 1703
Q 4094 1028 3997 597
Q 3875 -16 3478 -544
L 3122 -206
Q 3691 491 3691 1997
L 3691 4984
L 5747 4984
z
M 5331 4594
L 4113 4594
L 4113 3547
L 5331 3547
L 5331 4594
z
M 5331 3163
L 4113 3163
L 4113 2088
L 5331 2088
L 5331 3163
z
M 434 -109
Q 978 328 1331 984
L 1728 769
Q 1322 22 766 -475
L 434 -109
z
M 2853 -97
Q 2559 453 2194 819
L 2547 1038
Q 2866 747 3231 219
L 2853 -97
z
" transform="scale(0.015625)"/>
<path id="IPAGothic-540d" d="M 2669 2094
L 5563 2094
L 5563 -434
L 5088 -434
L 5088 -122
L 2459 -122
L 2459 -447
L 1984 -447
L 1984 1716
Q 1294 1366 716 1147
L 397 1531
Q 1775 1950 2844 2700
Q 2400 3181 1978 3500
Q 1509 3091 934 2784
L 609 3122
Q 2097 3881 2869 5297
L 3322 5184
Q 3263 5081 3028 4709
L 4984 4709
L 5253 4478
Q 4072 2894 2669 2094
z
M 2459 1697
L 2459 269
L 5088 269
L 5088 1697
L 2459 1697
z
M 3213 2981
Q 4069 3694 4531 4319
L 2747 4319
Q 2563 4088 2278 3781
Q 2847 3366 3213 2981
z
" transform="scale(0.015625)"/>
<path id="IPAGothic-76ee" d="M 5266 4819
L 5266 -384
L 4791 -384
L 4791 38
L 1600 38
L 1600 -384
L 1125 -384
L 1125 4819
L 5266 4819
z
M 1600 4416
L 1600 3384
L 4791 3384
L 4791 4416
L 1600 4416
z
M 1600 2988
L 1600 1966
L 4791 1966
L 4791 2988
L 1600 2988
z
M 1600 1563
L 1600 447
L 4791 447
L 4791 1563
L 1600 1563
z
" transform="scale(0.015625)"/>
<path id="IPAGothic-47" d="M 2491 325
L 2491 928
Q 2134 197 1541 197
Q 963 197 625 794
Q 294 1391 294 2559
Q 294 3656 641 4300
Q 984 4934 1625 4934
Q 2653 4934 2856 3525
L 2331 3525
Q 2188 4453 1625 4453
Q 844 4453 844 2572
Q 844 678 1600 678
Q 2288 678 2434 1997
L 1759 1997
L 1759 2456
L 2900 2456
L 2900 325
L 2491 325
z
" transform="scale(0.015625)"/>
<path id="IPAGothic-44" d="M 172 325
L 172 800
L 538 800
L 538 4331
L 172 4331
L 172 4806
L 1331 4806
Q 2094 4806 2503 4275
Q 2906 3753 2906 2638
Q 2906 1481 2534 941
Q 2113 325 1363 325
L 172 325
z
M 1050 4331
L 1050 800
L 1344 800
Q 2381 800 2381 2638
Q 2381 3550 2084 3963
Q 1822 4331 1306 4331
L 1050 4331
z
" transform="scale(0.015625)"/>
<path id="IPAGothic-50" d="M 447 4806
L 1569 4806
Q 2122 4806 2466 4550
Q 2919 4200 2919 3544
Q 2919 2753 2278 2409
Q 1975 2244 1581 2244
L 959 2244
L 959 325
L 447 325
L 447 4806
z
M 959 4319
L 959 2731
L 1528 2731
Q 2394 2731 2394 3538
Q 2394 4009 2009 4209
Q 1803 4319 1528 4319
L 959 4319
z
" transform="scale(0.015625)"/>
<path id="IPAGothic-5b9f" d="M 3525 1275
Q 4288 350 6022 91
L 5741 -375
Q 3953 -41 3219 1050
Q 2731 -144 728 -472
L 469 -44
Q 2422 150 2872 1275
L 384 1275
L 384 1659
L 2950 1659
L 2950 2144
L 966 2144
L 966 2509
L 2950 2509
L 2950 2969
L 1269 2969
L 1269 3341
L 2950 3341
L 2950 3988
L 3403 3988
L 3403 3341
L 5128 3341
L 5128 2969
L 3403 2969
L 3403 2509
L 5447 2509
L 5447 2144
L 3403 2144
L 3403 1659
L 6016 1659
L 6016 1275
L 3525 1275
z
M 3413 4544
L 5778 4544
L 5778 3272
L 5309 3272
L 5309 4147
L 1084 4147
L 1084 3272
L 616 3272
L 616 4544
L 2938 4544
L 2938 5313
L 3413 5313
L 3413 4544
z
" transform="scale(0.015625)"/>
<path id="IPAGothic-984d" d="M 881 1409
L 856 1391
Q 750 1331 459 1178
L 197 1513
Q 1053 1856 1622 2425
Q 1222 2709 1066 2809
Q 847 2550 606 2350
L 331 2638
Q 1044 3216 1359 4141
L 1738 4031
Q 1650 3778 1578 3634
L 2544 3634
L 2756 3441
Q 2513 2900 2188 2497
Q 2800 2056 3222 1722
L 2959 1372
Q 2794 1519 2781 1525
L 2781 -97
L 1297 -97
L 1297 -447
L 881 -447
L 881 1409
z
M 1094 1538
L 2769 1538
Q 2403 1847 2019 2138
L 1931 2203
Q 1563 1834 1094 1538
z
M 2366 1178
L 1297 1178
L 1297 275
L 2366 275
L 2366 1178
z
M 1381 3256
Q 1316 3153 1278 3097
Q 1522 2944 1878 2706
Q 2081 2966 2231 3256
L 1381 3256
z
M 4616 4025
L 5741 4025
L 5741 794
L 3481 794
L 3481 4025
L 4225 4025
Q 4322 4472 4353 4659
L 3147 4659
L 3147 5056
L 6047 5056
L 6047 4659
L 4800 4659
Q 4797 4638 4769 4538
Q 4719 4309 4616 4025
z
M 5331 3653
L 3891 3653
L 3891 3078
L 5331 3078
L 5331 3653
z
M 3891 2713
L 3891 2138
L 5331 2138
L 5331 2713
L 3891 2713
z
M 3891 1778
L 3891 1166
L 5331 1166
L 5331 1778
L 3891 1778
z
M 2028 4544
L 3153 4544
L 3153 3553
L 2744 3553
L 2744 4178
L 850 4178
L 850 3450
L 447 3450
L 447 4544
L 1600 4544
L 1600 5313
L 2028 5313
L 2028 4544
z
M 2975 -178
Q 3666 178 4081 756
L 4447 538
Q 3956 -109 3300 -513
L 2975 -178
z
M 5797 -428
Q 5275 163 4806 531
L 5125 769
Q 5644 403 6150 -122
L 5797 -428
z
" transform="scale(0.015625)"/>
<path id="IPAGothic-5b" d="M 716 5300
L 2675 5300
L 2675 4853
L 1163 4853
L 1163 13
L 2675 13
L 2675 -434
L 716 -434
L 716 5300
z
" transform="scale(0.015625)"/>
<path id="IPAGothic-31" d="M 1428 325
L 1428 4153
Q 1188 3991 756 3809
L 756 4325
Q 1256 4509 1563 4806
L 1953 4806
L 1953 325
L 1428 325
z
" transform="scale(0.015625)"/>
<path id="IPAGothic-30" d="M 359 2565 A 1242 2368 0 1 0 2843 2565 A 1242 2368 0 1 0 359 2565 Z M 799 2565 A 802 1948 0 1 1 2403 2565 A 802 1948 0 1 1 799 2565 Z" transform="scale(0.015625)"/>
<path id="IPAGothic-5104" d="M 1394 3706
L 1394 -447
L 966 -447
L 966 2697
Q 759 2288 478 1863
L 244 2259
Q 1044 3534 1388 5306
L 1816 5203
Q 1634 4369 1394 3706
z
M 4038 4722
L 5697 4722
L 5697 4369
L 4972 4369
Q 4809 3972 4722 3809
L 6016 3809
L 6016 3444
L 1691 3444
L 1691 3809
L 2906 3809
Q 2794 4138 2656 4369
L 1997 4369
L 1997 4722
L 3597 4722
L 3597 5313
L 4038 5313
L 4038 4722
z
M 3131 4369
Q 3247 4116 3347 3809
L 4294 3809
Q 4419 4047 4513 4369
L 3131 4369
z
M 5416 3084
L 5416 1394
L 2241 1394
L 2241 3084
L 5416 3084
z
M 2663 2744
L 2663 2419
L 4988 2419
L 4988 2744
L 2663 2744
z
M 2663 2088
L 2663 1734
L 4988 1734
L 4988 2088
L 2663 2088
z
M 1631 -63
Q 2006 475 2169 1125
L 2559 978
Q 2378 241 2022 -347
L 1631 -63
z
M 2803 1141
L 3244 1141
L 3244 306
Q 3244 128 3353 88
Q 3447 50 3891 50
Q 4478 50 4544 172
Q 4597 281 4606 691
L 5050 578
Q 5000 -53 4875 -200
Q 4719 -366 3909 -366
Q 3125 -366 2956 -256
Q 2803 -150 2803 78
L 2803 1141
z
M 4006 409
Q 3772 816 3463 1113
L 3809 1331
Q 4119 1041 4372 666
L 4006 409
z
M 5709 -206
Q 5316 550 4859 1075
L 5209 1281
Q 5713 747 6094 116
L 5709 -206
z
" transform="scale(0.015625)"/>
<path id="IPAGothic-5186" d="M 5594 4806
L 5594 319
Q 5594 34 5491 -97
Q 5366 -269 4959 -269
Q 4469 -269 3897 -225
L 3809 275
Q 4384 206 4844 206
Q 5106 206 5106 434
L 5106 2119
L 1281 2119
L 1281 -359
L 794 -359
L 794 4806
L 5594 4806
z
M 1281 4366
L 1281 2547
L 2944 2547
L 2944 4366
L 1281 4366
z
M 5106 2547
L 5106 4366
L 3413 4366
L 3413 2547
L 5106 2547
z
" transform="scale(0.015625)"/>
<path id="IPAGothic-5d" d="M 525 5300
L 2484 5300
L 2484 -434
L 525 -434
L 525 13
L 2038 13
L 2038 4853
L 525 4853
L 525 5300
z
" transform="scale(0.015625)"/>
</defs>
<use xlink:href="#IPAGothic-56db" transform="translate(0.000 0)"/>
<use xlink:href="#IPAGothic-534a" transform="translate(100.000 0)"/>
<use xlink:href="#IPAGothic-671f" transform="translate(200.000 0)"/>
<use xlink:href="#IPAGothic-540d" transform="translate(300.000 0)"/>
<use xlink:href="#IPAGothic-76ee" transform="translate(400.000 0)"/>
<use xlink:href="#IPAGothic-47" transform="translate(500.000 0)"/>
<use xlink:href="#IPAGothic-44" transform="translate(550.000 0)"/>
<use xlink:href="#IPAGothic-50" transform="translate(600.000 0)"/>
<use xlink:href="#IPAGothic-5b9f" transform="translate(650.000 0)"/>
<use xlink:href="#IPAGothic-984d" transform="translate(750.000 0)"/>
<use xlink:href="#IPAGothic-5b" transform="translate(850.000 0)"/>
<use xlink:href="#IPAGothic-31" transform="translate(900.000 0)"/>
<use xlink:href="#IPAGothic-30" transform="translate(950.000 0)"/>
<use xlink:href="#IPAGothic-30" transform="translate(1000.000 0)"/>
<use xlink:href="#IPAGothic-30" transform="translate(1050.000 0)"/>
<use xlink:href="#IPAGothic-5104" transform="translate(1100.000 0)"/>
<use xlink:href="#IPAGothic-5186" transform="translate(1200.000 0)"/>
<use xlink:href="#IPAGothic-5d" transform="translate(1294.960 0)"/>
</g>
</g>
</g>
<g id="line2d_65">
<path transform="translate(-0.5760 0.0000)" d="M 85.817472 283.680058
L 104.392234 367.272058
L 122.966997 310.104058
L 141.33986 291.528058
L 159.510823 295.848058
L 178.085586 288.144058
L 196.660348 295.200058
L 215.033211 285.192058
L 233.204174 286.560058
L 251.778937 279.720058
L 270.3537 284.184058
L 288.726562 266.184058
L 306.897526 233.208058
L 325.472288 214.488058
L 344.047051 207.432058
L 362.419914 203.112058
L 380.792777 204.840058
L 399.367539 181.152058
L 417.942302 173.376058
L 436.315165 153.216058
L 454.486128 149.616058
L 473.060891 129.672058
L 491.635653 64.799482
" clip-path="url(#p11ac2ed58e)" style="fill: none; stroke: #0000ff; stroke-width: 2; stroke-linecap: square"/>
</g>
<g id="patch_3">
<path d="M 65.526563 383.04
L 65.526563 50.4
" style="fill: none; stroke: #000000; stroke-width: 0.8; stroke-linejoin: miter; stroke-linecap: square"/>
</g>
<g id="patch_4">
<path d="M 511.926562 383.04
L 511.926562 50.4
" style="fill: none; stroke: #000000; stroke-width: 0.8; stroke-linejoin: miter; stroke-linecap: square"/>
</g>
<g id="patch_5">
<path d="M 65.526562 383.04
L 511.926562 383.04
" style="fill: none; stroke: #000000; stroke-width: 0.8; stroke-linejoin: miter; stroke-linecap: square"/>
</g>
<g id="patch_6">
<path d="M 65.526562 50.4
L 511.926562 50.4
" style="fill: none; stroke: #000000; stroke-width: 0.8; stroke-linejoin: miter; stroke-linecap: square"/>
</g>
<g id="legend_1">
<g id="patch_7" transform="translate(0.2160 0.0000)" >
<path d="M 72.526563 72.564062
L 194.526563 72.564062
Q 196.526563 72.564062 196.526563 70.564062
L 196.526563 56.5360
Q 196.526563 54.5360 194.526563 54.5360
L 72.526563 54.5360
Q 70.526563 54.5360 70.526563 56.5360
L 70.526563 70.564062
Q 70.526563 72.564062 72.526563 72.564062
z
" style="fill: #ffffff; opacity: 0.8; stroke: #cccccc; stroke-linejoin: miter"/>
</g>
<g id="line2d_66">
<path transform="translate(-0.2160 -0.7920)" d="M 74.526563 64.135937
L 84.526563 64.135937
L 94.526563 64.135937
" style="fill: none; stroke: #0000ff; stroke-width: 2; stroke-linecap: square"/>
</g>
<g id="text_34" transform="translate(-0.5040 -0.7200)">
<!-- 最終需要[1000億円] -->
<g transform="translate(102.526563 67.635937) scale(0.1 -0.1)">
<defs>
<path id="IPAGothic-6700" d="M 5106 5050
L 5106 3275
L 1288 3275
L 1288 5050
L 5106 5050
z
M 1741 4697
L 1741 4331
L 4659 4331
L 4659 4697
L 1741 4697
z
M 1741 4000
L 1741 3622
L 4659 3622
L 4659 4000
L 1741 4000
z
M 2925 2528
L 2925 -447
L 2503 -447
L 2503 231
Q 1875 97 525 -75
L 409 359
Q 491 363 609 372
Q 728 381 756 384
L 994 403
L 994 2528
L 384 2528
L 384 2900
L 6016 2900
L 6016 2528
L 2925 2528
z
M 2503 2528
L 1403 2528
L 1403 2088
L 2503 2088
L 2503 2528
z
M 2503 1763
L 1403 1763
L 1403 1309
L 2503 1309
L 2503 1763
z
M 2503 984
L 1403 984
L 1403 434
L 1763 472
Q 2159 500 2503 550
L 2503 984
z
M 4844 588
Q 5350 225 6047 -9
L 5753 -419
Q 5066 -128 4556 288
Q 4000 -241 3281 -534
L 3006 -163
Q 3738 84 4263 563
Q 3722 1141 3463 1803
L 3084 1803
L 3084 2169
L 5428 2169
L 5656 1963
Q 5328 1178 4881 638
L 4844 588
z
M 4538 850
Q 4884 1275 5119 1803
L 3872 1803
Q 4113 1275 4538 850
z
" transform="scale(0.015625)"/>
<path id="IPAGothic-7d42" d="M 1259 3066
Q 825 3681 378 4128
L 666 4425
Q 828 4259 916 4156
Q 1300 4750 1541 5331
L 1956 5122
Q 1547 4366 1150 3859
Q 1338 3628 1491 3394
Q 1900 3994 2200 4544
L 2578 4303
Q 1994 3347 1338 2575
L 1638 2594
Q 2006 2613 2200 2631
Q 2075 2919 1950 3150
L 2297 3297
Q 2606 2763 2822 2106
L 2444 1922
Q 2403 2066 2316 2319
Q 2228 2297 1778 2234
L 1778 -447
L 1363 -447
L 1363 2184
Q 972 2138 428 2106
L 281 2534
Q 619 2547 869 2556
Q 1138 2900 1259 3066
z
M 4709 2859
Q 5281 2319 6144 1984
L 5844 1575
Q 5028 1969 4447 2547
Q 3819 1869 2888 1388
L 2603 1753
Q 3584 2172 4172 2834
Q 3800 3291 3553 3719
Q 3284 3294 2866 2888
L 2591 3206
Q 3384 3944 3800 5288
L 4219 5153
Q 4066 4738 4031 4659
L 5325 4659
L 5556 4447
Q 5234 3569 4709 2859
z
M 4428 3150
Q 4838 3706 5031 4269
L 3859 4269
Q 3813 4166 3769 4097
Q 4028 3609 4428 3150
z
M 359 197
Q 588 863 653 1759
L 1063 1709
Q 994 684 769 -13
L 359 197
z
M 2253 306
Q 2125 1138 1919 1759
L 2278 1869
Q 2525 1250 2681 481
L 2253 306
z
M 5003 831
Q 4456 1244 3794 1563
L 4056 1894
Q 4644 1597 5278 1191
L 5003 831
z
M 5344 -422
Q 4356 134 3175 594
L 3397 947
Q 4528 509 5600 -44
L 5344 -422
z
" transform="scale(0.015625)"/>
<path id="IPAGothic-9700" d="M 2956 4384
L 2956 4741
L 1056 4741
L 1056 5100
L 5338 5100
L 5338 4741
L 3397 4741
L 3397 4384
L 5766 4384
L 5766 3138
L 5319 3138
L 5319 4031
L 3397 4031
L 3397 2591
L 2956 2591
L 2956 4031
L 1075 4031
L 1075 3138
L 622 3138
L 622 4384
L 2956 4384
z
M 3163 1544
L 5525 1544
L 5525 13
Q 5525 -194 5450 -288
Q 5344 -403 5034 -403
Q 4775 -403 4494 -372
L 4425 72
Q 4656 13 4913 13
Q 5072 13 5072 213
L 5072 1191
L 4066 1191
L 4066 -288
L 3638 -288
L 3638 1191
L 2688 1191
L 2688 -288
L 2259 -288
L 2259 1191
L 1319 1191
L 1319 -447
L 866 -447
L 866 1544
L 2713 1544
Q 2781 1688 2859 1944
L 384 1944
L 384 2303
L 6009 2303
L 6009 1944
L 3334 1944
Q 3269 1744 3163 1544
z
M 1369 3675
L 2663 3675
L 2663 3363
L 1369 3363
L 1369 3675
z
M 1369 3009
L 2663 3009
L 2663 2691
L 1369 2691
L 1369 3009
z
M 3694 3675
L 5019 3675
L 5019 3363
L 3694 3363
L 3694 3675
z
M 3694 3009
L 5019 3009
L 5019 2691
L 3694 2691
L 3694 3009
z
" transform="scale(0.015625)"/>
<path id="IPAGothic-8981" d="M 2278 4025
L 2278 4581
L 531 4581
L 531 4978
L 5856 4978
L 5856 4581
L 4081 4581
L 4081 4025
L 5522 4025
L 5522 2547
L 863 2547
L 863 4025
L 2278 4025
z
M 2694 4025
L 3659 4025
L 3659 4581
L 2694 4581
L 2694 4025
z
M 2278 3666
L 1316 3666
L 1316 2906
L 2278 2906
L 2278 3666
z
M 2694 3666
L 2694 2906
L 3659 2906
L 3659 3666
L 2694 3666
z
M 4081 3666
L 4081 2906
L 5075 2906
L 5075 3666
L 4081 3666
z
M 3063 338
Q 2547 503 1694 722
L 1503 775
Q 1813 1138 2066 1503
L 447 1503
L 447 1900
L 2316 1900
Q 2497 2225 2641 2516
L 3084 2366
Q 2981 2172 2834 1900
L 5950 1900
L 5950 1503
L 4619 1503
Q 4369 878 3984 484
Q 4750 263 5797 -91
L 5413 -488
Q 4438 -100 3594 172
Q 2706 -406 869 -531
L 625 -97
Q 2122 -28 3063 338
z
M 3513 619
Q 3934 1025 4134 1503
L 2597 1503
Q 2413 1213 2238 984
L 2213 953
Q 2656 853 3513 619
z
" transform="scale(0.015625)"/>
</defs>
<use xlink:href="#IPAGothic-6700" transform="translate(0.000 0)"/>
<use xlink:href="#IPAGothic-7d42" transform="translate(100.000 0)"/>
<use xlink:href="#IPAGothic-9700" transform="translate(200.000 0)"/>
<use xlink:href="#IPAGothic-8981" transform="translate(300.000 0)"/>
<use xlink:href="#IPAGothic-5b" transform="translate(403.600 0)"/>
<use xlink:href="#IPAGothic-31" transform="translate(450.000 0)"/>
<use xlink:href="#IPAGothic-30" transform="translate(500.000 0)"/>
<use xlink:href="#IPAGothic-30" transform="translate(550.000 0)"/>
<use xlink:href="#IPAGothic-30" transform="translate(600.000 0)"/>
<use xlink:href="#IPAGothic-5104" transform="translate(650.000 0)"/>
<use xlink:href="#IPAGothic-5186" transform="translate(750.000 0)"/>
<use xlink:href="#IPAGothic-5d" transform="translate(850.000 0)"/>
</g>
</g>
</g>
</g>
<g id="text_35" transform="translate(-0.5040 0.3600)">
<!-- 四半期名目GDP実額(5年) -->
<g transform="translate(204.526563 18.712812) scale(0.14 -0.14)">
<defs>
<path id="IPAGothic-28" d="M 2219 -434
Q 997 769 997 2441
Q 997 4097 2219 5300
L 2719 5300
Q 1478 4078 1478 2425
Q 1478 788 2719 -434
L 2219 -434
z
" transform="scale(0.015625)"/>
<path id="IPAGothic-35" d="M 566 4806
L 2691 4806
L 2691 4359
L 1013 4359
L 944 2888
Q 1259 3250 1738 3250
Q 2250 3250 2588 2816
Q 2909 2397 2909 1772
Q 2909 1238 2697 844
Q 2341 197 1591 197
Q 538 197 328 1375
L 841 1375
Q 947 644 1588 644
Q 2000 644 2228 997
Q 2422 1294 2422 1766
Q 2422 2184 2259 2456
Q 2059 2822 1653 2822
Q 1156 2822 859 2225
L 456 2309
L 566 4806
z
" transform="scale(0.015625)"/>
<path id="IPAGothic-5e74" d="M 1772 4159
Q 1444 3419 875 2803
L 531 3166
Q 1322 3941 1631 5259
L 2109 5156
Q 1994 4759 1931 4563
L 5694 4563
L 5694 4159
L 3756 4159
L 3756 3128
L 5431 3128
L 5431 2725
L 3756 2725
L 3756 1509
L 6078 1509
L 6078 1094
L 3756 1094
L 3756 -447
L 3275 -447
L 3275 1094
L 447 1094
L 447 1509
L 1534 1509
L 1534 3128
L 3275 3128
L 3275 4159
L 1772 4159
z
M 3275 2725
L 1994 2725
L 1994 1509
L 3275 1509
L 3275 2725
z
" transform="scale(0.015625)"/>
<path id="IPAGothic-29" d="M 481 -434
Q 1722 788 1722 2434
Q 1722 4069 481 5300
L 981 5300
Q 2203 4097 2203 2434
Q 2203 769 981 -434
L 481 -434
z
" transform="scale(0.015625)"/>
</defs>
<use xlink:href="#IPAGothic-56db" transform="translate(-2.571 0)"/>
<use xlink:href="#IPAGothic-534a" transform="translate(89.714 0)"/>
<use xlink:href="#IPAGothic-671f" transform="translate(189.714 0)"/>
<use xlink:href="#IPAGothic-540d" transform="translate(289.714 0)"/>
<use xlink:href="#IPAGothic-76ee" transform="translate(392.286 0)"/>
<use xlink:href="#IPAGothic-47" transform="translate(489.714 0)"/>
<use xlink:href="#IPAGothic-44" transform="translate(539.714 0)"/>
<use xlink:href="#IPAGothic-50" transform="translate(589.714 0)"/>
<use xlink:href="#IPAGothic-5b9f" transform="translate(644.857 0)"/>
<use xlink:href="#IPAGothic-984d" transform="translate(750.000 0)"/>
<use xlink:href="#IPAGothic-28" transform="translate(850.000 0)"/>
<use xlink:href="#IPAGothic-35" transform="translate(892.286 0)"/>
<use xlink:href="#IPAGothic-5e74" transform="translate(942.286 0)"/>
<use xlink:href="#IPAGothic-29" transform="translate(1037.143 0)"/>
</g>
</g>
</g>
<defs>
<clipPath id="p11ac2ed58e">
<rect x="65.526563" y="50.4" width="446.4" height="332.64"/>
</clipPath>
</defs>
</svg>

</body></html>
